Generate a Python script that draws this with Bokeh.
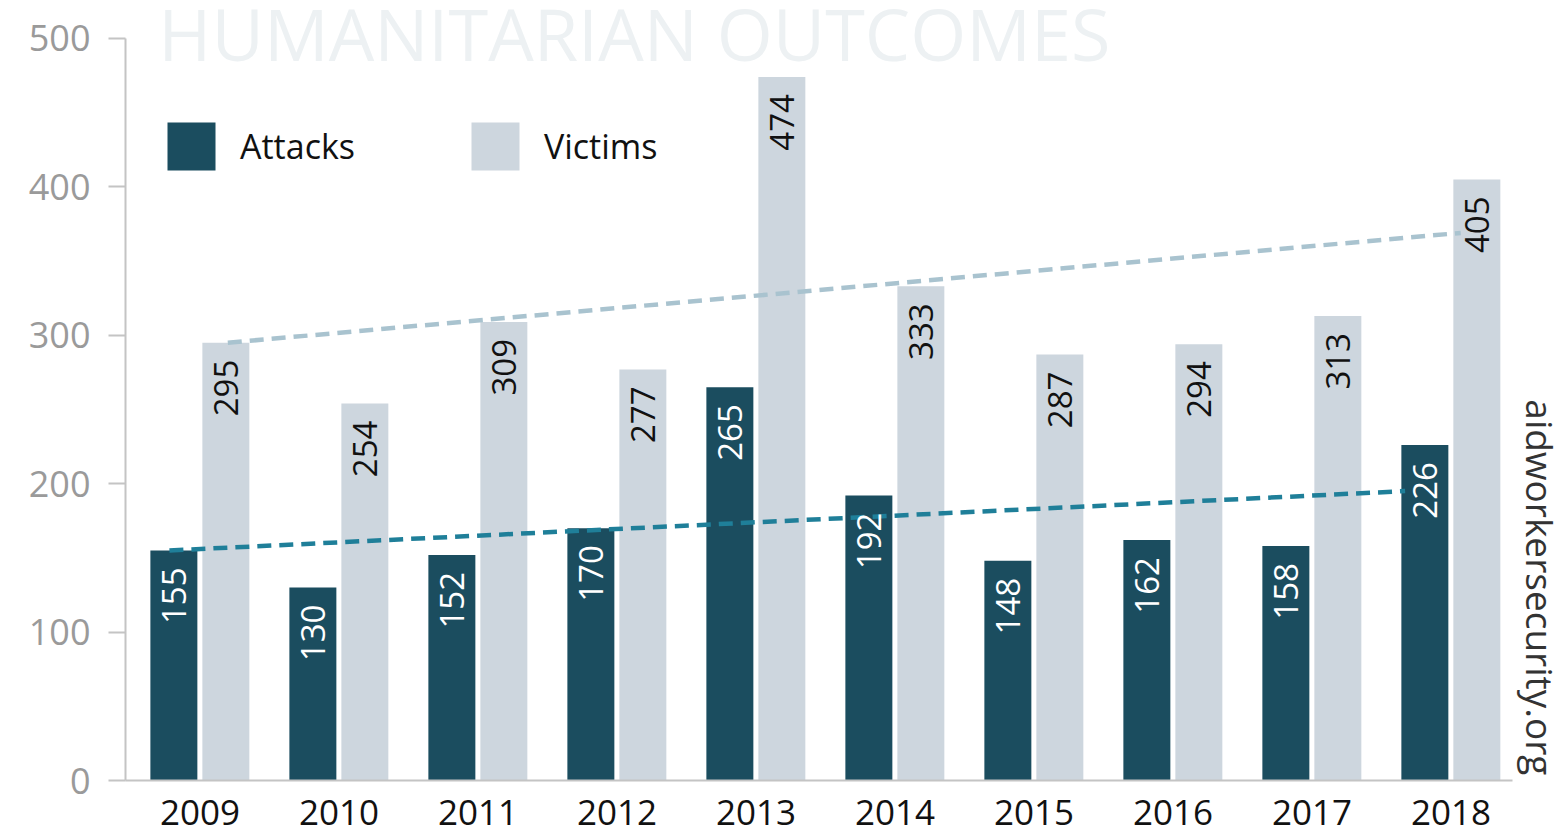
import math
from bokeh.plotting import figure
from bokeh.models import (ColumnDataSource, Range1d, FixedTicker, LabelSet, Label,
                          Legend, LegendItem)
from bokeh.transform import dodge
from bokeh.core.properties import value
from bokeh.embed import file_html
from bokeh.resources import INLINE

# ---- data ----
years = [2009, 2010, 2011, 2012, 2013, 2014, 2015, 2016, 2017, 2018]
attacks = [155, 130, 152, 170, 265, 192, 148, 162, 158, 226]
victims = [295, 254, 309, 277, 474, 333, 287, 294, 313, 405]
# trend lines (start/end)
attacks_trend_x = [2008.78, 2017.67]
attacks_trend_y = [155, 195]
victims_trend_x = [2009.2, 2018.07]
victims_trend_y = [295, 369]
y_ticks = [0, 100, 200, 300, 400, 500]

FONT = "Open Sans"
DARK = "#1b4d5f"
LIGHT = "#cdd6de"

src = ColumnDataSource(dict(
    year=years, attacks=attacks, victims=victims,
    attacks_lbl=[str(v) for v in attacks],
    victims_lbl=[str(v) for v in victims],
))

p = figure(width=1566, height=836, output_backend="svg", toolbar_location=None,
           x_range=Range1d(2008.464, 2018.831), y_range=Range1d(0, 525.6),
           min_border_left=125, min_border_right=0, min_border_top=0,
           min_border_bottom=56)
p.outline_line_color = None
p.xgrid.visible = False
p.ygrid.visible = False
p.background_fill_color = "white"
p.border_fill_color = "white"

ra = p.vbar(x=dodge("year", -0.188, range=p.x_range), top="attacks", width=0.338,
            source=src, fill_color=DARK, line_color=None)
rv = p.vbar(x=dodge("year", 0.186, range=p.x_range), top="victims", width=0.338,
            source=src, fill_color=LIGHT, line_color=None)

p.line(attacks_trend_x, attacks_trend_y, line_color="#1f7f99", line_width=4.5,
       line_dash="14 8")
p.line(victims_trend_x, victims_trend_y, line_color="#a9c3cf", line_width=4.5,
       line_dash="14 8")

p.add_layout(LabelSet(x=dodge("year", -0.188, range=p.x_range), y="attacks",
                      text="attacks_lbl", source=src, angle=math.pi / 2,
                      text_align="right", text_baseline="middle", y_offset=-17,
                      text_color="white", text_font_size="33px",
                      text_font=value(FONT)))
p.add_layout(LabelSet(x=dodge("year", 0.186, range=p.x_range), y="victims",
                      text="victims_lbl", source=src, angle=math.pi / 2,
                      text_align="right", text_baseline="middle", y_offset=-17,
                      text_color="#111111", text_font_size="33px",
                      text_font=value(FONT)))

# axes
p.yaxis.ticker = FixedTicker(ticks=y_ticks)
p.yaxis.bounds = (0, 500)
p.yaxis.axis_line_color = "#c4c4c4"
p.yaxis.axis_line_width = 2
p.yaxis.major_tick_line_color = "#c4c4c4"
p.yaxis.major_tick_line_width = 2
p.yaxis.major_tick_out = 17
p.yaxis.major_tick_in = 0
p.yaxis.minor_tick_line_color = None
p.yaxis.major_label_standoff = 18
p.yaxis.major_label_text_color = "#9a9a9a"
p.yaxis.major_label_text_font_size = "36px"
p.yaxis.major_label_text_font = FONT

p.xaxis.ticker = FixedTicker(ticks=years)
p.xaxis.bounds = (2008.464, 2018.44)
p.xaxis.axis_line_color = "#c4c4c4"
p.xaxis.axis_line_width = 2
p.xaxis.major_tick_line_color = None
p.xaxis.minor_tick_line_color = None
p.xaxis.major_tick_out = 0
p.xaxis.major_tick_in = 0
p.xaxis.major_label_standoff = 19
p.xaxis.major_label_text_color = "#111111"
p.xaxis.major_label_text_font_size = "35px"
p.xaxis.major_label_text_font = FONT

# faint title inside plot
p.add_layout(Label(x=2008.70, y=503.5, text="HUMANITARIAN OUTCOMES",
                   text_font=FONT, text_font_size="72px", text_color="#edf1f3",
                   text_baseline="alphabetic", text_align="left"))
# side source text
p.add_layout(Label(x=2018.644, y=3.4, text="aidworkersecurity.org", angle=-math.pi / 2,
                   text_font=FONT, text_font_size="37px", text_color="#333333",
                   text_baseline="middle", text_align="right"))

legend = Legend(items=[LegendItem(label="Attacks", renderers=[ra]),
                       LegendItem(label="Victims", renderers=[rv])],
                location=(36, 604), orientation="horizontal",
                glyph_width=60, glyph_height=60, label_height=60,
                label_standoff=19, spacing=110, padding=0, margin=0,
                border_line_color=None, background_fill_alpha=0,
                label_text_font=FONT, label_text_font_size="34px",
                label_text_color="#111111")
p.add_layout(legend)

open("out.html", "w").write(file_html(p, INLINE))
